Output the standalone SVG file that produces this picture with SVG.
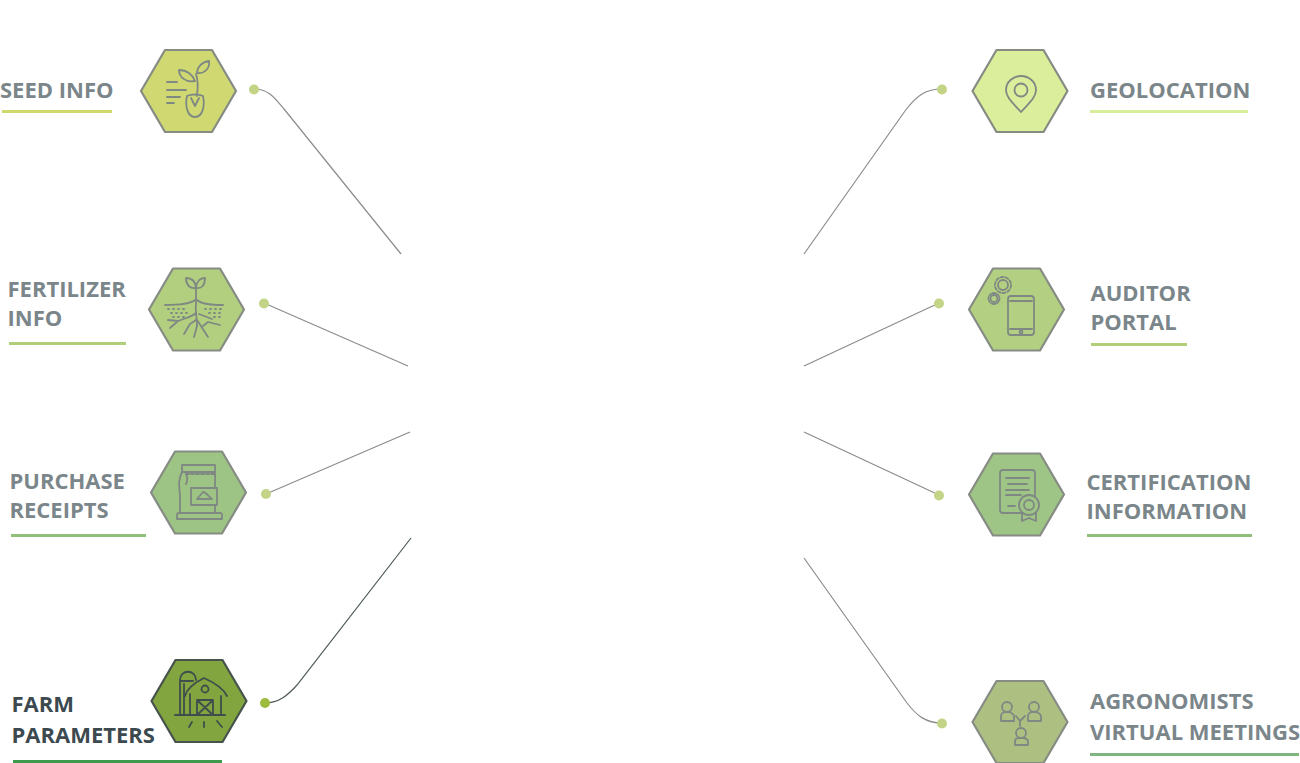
<svg xmlns="http://www.w3.org/2000/svg" width="1300" height="763" viewBox="0 0 1300 763">
<style>
text{font-family:"Open Sans","DejaVu Sans",sans-serif;font-weight:700;font-size:22px;fill:#7b868a}
text.dark{fill:#3c4a50}
.hex{stroke:#868c84;stroke-width:2.2;stroke-linejoin:round}
.ic{fill:none;stroke:#7f8883;stroke-width:1.8;stroke-linecap:round;stroke-linejoin:round}
.dk{stroke:#3f4d4c}
.con{fill:none;stroke:#8a8e8a;stroke-width:1.2}
.dot{fill:#c3d487}
</style>
<defs><polygon id="h" points="-47.500,0 -23.500,-41 23.500,-41 47.500,0 23.500,41 -23.500,41"/></defs>
<rect width="1300" height="763" fill="#fff"/>
<g id="connectors">
<path class="con" d="M254 89C268 89 274 97 284 109L401 254"/>
<path class="con" d="M264 303L408 366"/>
<path class="con" d="M266 494L410 432"/>
<path class="con" style="stroke:#4d5a55" d="M265 703C279 703 288 695 297 685L411 538"/>
<path class="con" d="M942 89C926 89 917 95 905 111L804 254"/>
<path class="con" d="M939 303L804 366"/>
<path class="con" d="M939 495L804 432"/>
<path class="con" d="M942 723C926 723 917 716 907 703L804 558"/>
<circle class="dot" cx="254" cy="89.500" r="5"/>
<circle class="dot" cx="264" cy="303.500" r="5"/>
<circle class="dot" cx="266" cy="494" r="5"/>
<circle cx="265" cy="703" r="5" fill="#9cbb3f"/>
<circle class="dot" cx="942" cy="89.500" r="5"/>
<circle class="dot" cx="939" cy="303.500" r="5"/>
<circle class="dot" cx="939" cy="495.500" r="5"/>
<circle class="dot" cx="942" cy="723.500" r="5"/>
</g>
<g id="seed-info">
<use href="#h" x="188.500" y="91" class="hex" fill="#d0d971"/>
<path class="ic" d="M167 82H177M167 90H186M167 97H180M167 103H174"/>
<path class="ic" d="M197 96C198 88 198 80 196 74"/>
<path class="ic" d="M195 81C193 75 187 70 179 70C179 77 186 83 195 81ZM197 73C197 67 202 62 209 61C210 68 205 74 197 73Z"/>
<path class="ic" d="M187 96C191 94 199 94 203 96C205 105 203 117 195 117C187 117 185 105 187 96ZM191 98L195 106L199 98"/>
<text x="0" y="98">SEED INFO</text>
<rect x="2" y="110" width="110" height="3" fill="#cfd96b"/>
</g>
<g id="fertilizer-info">
<use href="#h" x="196.500" y="309.500" class="hex" fill="#b2cf7f"/>
<path class="ic" d="M196 289V304C195 311 197 318 197 326M196 288C190 289 186 285 186 278C192 278 196 282 196 288ZM196 288C202 289 205 285 205 278C200 278 196 282 196 288Z"/>
<path class="ic" d="M165 305C178 305 190 304 195 300M223 305C212 305 201 304 197 300"/>
<path class="ic" d="M170 328L178 321C185 318 192 317 196 313M178 321L168 320M184 334L190 324L196 320M197 320L208 337M203 326L208 322L220 325M199 314L212 319M197 326L194 337"/>
<path class="ic" stroke-dasharray="1 4" d="M168 309H186M171 313H188M173 317H184M205 309H224M209 313H222M214 317H222"/>
<text x="7.500" y="297">FERTILIZER</text>
<text x="7.500" y="326">INFO</text>
<rect x="9" y="342" width="117" height="3" fill="#b0cf78"/>
</g>
<g id="purchase-receipts">
<use href="#h" x="198.500" y="492.500" class="hex" fill="#9dc484"/>
<path class="ic" d="M182 465H215V472H182ZM182 472C178 480 179 486 180 495V513M215 472V488M180 513H215V505M191 488H217V505H191Z"/>
<path class="ic" d="M186 474H214" stroke-dasharray="3 2"/>
<path class="ic" d="M186 474C188 478 187 482 186 484M177 519V515C177 514 178 513 179 513H220C221 513 222 514 222 515V519ZM197 499L203 492C206 492 209 497 212 499Z"/>
<text x="9.500" y="489">PURCHASE</text>
<text x="9.500" y="518">RECEIPTS</text>
<rect x="11" y="534" width="135" height="3" fill="#8fc07a"/>
</g>
<g id="farm-parameters">
<use href="#h" x="199" y="701" class="hex" style="stroke:#46534c" fill="#82a53f"/>
<path class="ic dk" d="M175 715H225M190 715V694M221 715V696M185 696C187 688 196 682 204 678C213 682 223 688 227 696M197 700H213V715H197ZM197 700L213 715M213 700L197 715"/>
<path class="ic dk" d="M180 715V680C180 669 196 669 196 680M180 681H193M184 684V715"/>
<circle class="ic dk" cx="205" cy="689" r="3.500"/>
<path class="ic dk" d="M192 722L189 727M204 722V727M217 721L222 727"/>
<text class="dark" x="11.500" y="712">FARM</text>
<text class="dark" x="11.500" y="742.500">PARAMETERS</text>
<rect x="13" y="760" width="209" height="3" fill="#3e9a4c"/>
</g>
<g id="geolocation">
<use href="#h" x="1020" y="91" class="hex" fill="#dbee9b"/>
<path class="ic" d="M1021 112C1014 104 1006 98 1006 90C1006 82 1013 76 1021 76C1029 76 1036 82 1036 90C1036 98 1028 104 1021 112Z"/>
<circle class="ic" cx="1021" cy="90" r="6.500"/>
<text x="1090" y="98">GEOLOCATION</text>
<rect x="1090" y="110" width="158" height="3" fill="#d9ee9a"/>
</g>
<g id="auditor-portal">
<use href="#h" x="1016.500" y="309.500" class="hex" fill="#b3d082"/>
<rect class="ic" x="1008" y="296" width="26" height="39" rx="3"/>
<path class="ic" d="M1010 301H1032M1010 329H1032"/>
<circle class="ic" cx="1021" cy="332" r="1.500"/>
<circle class="ic" cx="1003" cy="285" r="5"/>
<circle class="ic" cx="1003" cy="285" r="8" stroke-dasharray="3 2"/>
<circle class="ic" cx="994" cy="298.500" r="3.500"/>
<circle class="ic" cx="994" cy="298.500" r="5.500" stroke-dasharray="2.500 1.500"/>
<text x="1090.500" y="301">AUDITOR</text>
<text x="1090.500" y="330">PORTAL</text>
<rect x="1091" y="343" width="96" height="3" fill="#b0cf78"/>
</g>
<g id="certification-information">
<use href="#h" x="1016.500" y="494.500" class="hex" fill="#9fc586"/>
<path class="ic" d="M1023 513H1003Q1000 513 1000 510V473Q1000 470 1003 470H1032Q1035 470 1035 473V496"/>
<path class="ic" d="M1006 478H1029M1008 484H1027M1006 490H1029M1006 495H1021M1008 506H1015"/>
<circle class="ic" cx="1029" cy="505" r="10"/>
<circle class="ic" cx="1029" cy="505" r="5"/>
<path class="ic" d="M1022 513V521L1029 518L1036 521V513"/>
<text x="1086.500" y="490">CERTIFICATION</text>
<text x="1086.500" y="519">INFORMATION</text>
<rect x="1087" y="534" width="165" height="3" fill="#8fc07a"/>
</g>
<g id="agronomists-virtual-meetings">
<use href="#h" x="1020" y="722" class="hex" fill="#adc081"/>
<circle class="ic" cx="1007" cy="707" r="5"/>
<circle class="ic" cx="1034" cy="707" r="5"/>
<circle class="ic" cx="1021" cy="733" r="5"/>
<path class="ic" d="M1001 721V716Q1001 713 1005 712H1009Q1013 713 1014 716V721ZM1028 721V716Q1028 713 1032 712H1036Q1040 713 1041 716V721ZM1015 745V741Q1015 738 1019 738H1023Q1027 738 1028 741V745Z"/>
<path class="ic" d="M1016 716L1020 721L1025 716M1020 721V726"/>
<text x="1090" y="709">AGRONOMISTS</text>
<text x="1090" y="739.500">VIRTUAL MEETINGS</text>
<rect x="1090" y="753" width="209" height="3" fill="#7fb680"/>
</g>
</svg>
